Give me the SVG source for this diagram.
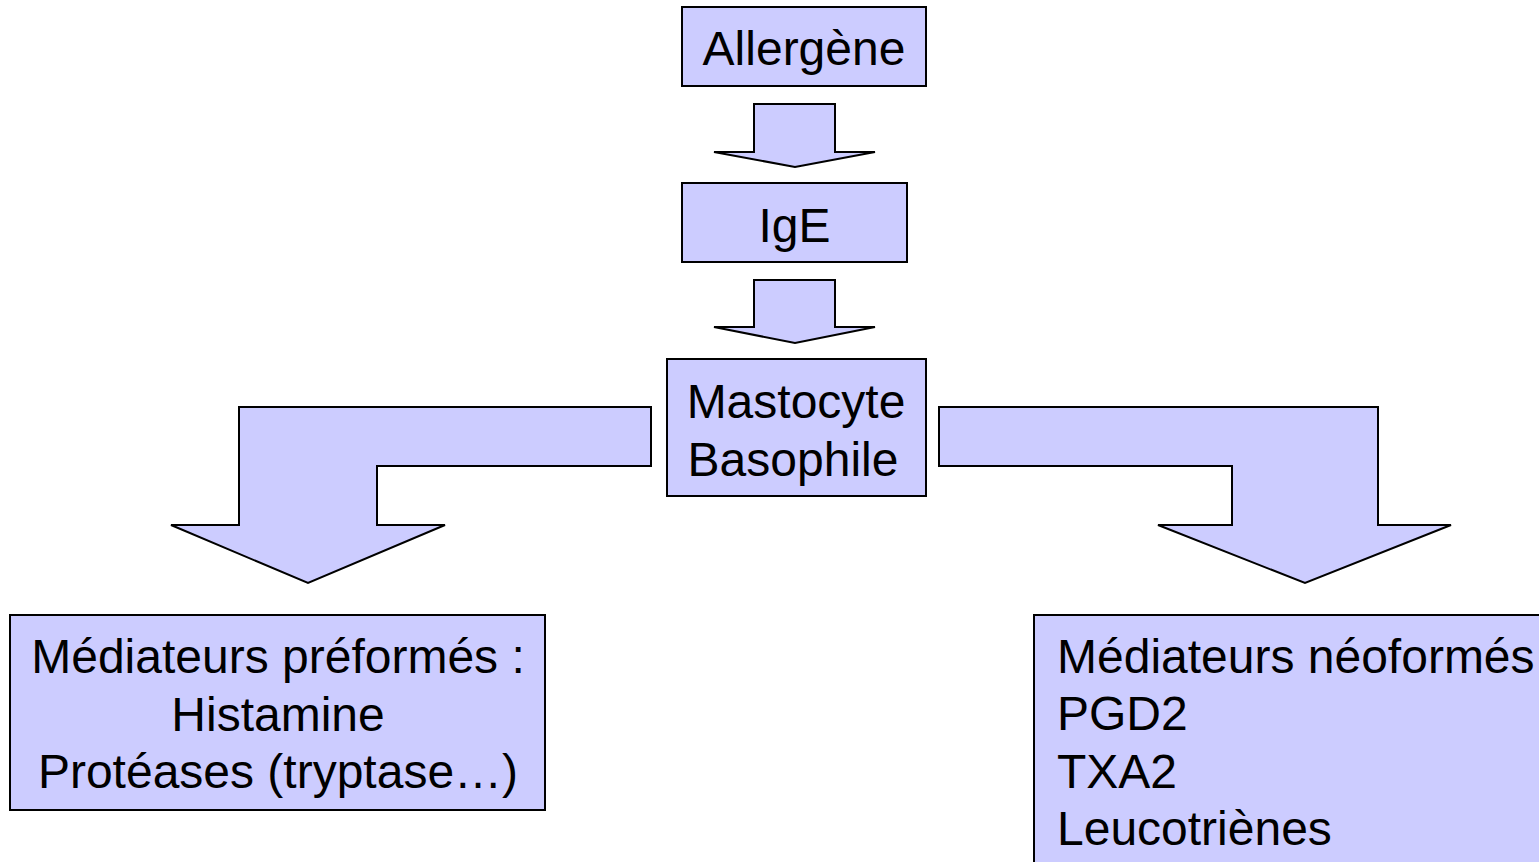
<svg xmlns="http://www.w3.org/2000/svg" width="1539" height="862" viewBox="0 0 1539 862">
<style>
.box{fill:#CCCCFF;stroke:#000;stroke-width:2}
.arr{fill:#CCCCFF;stroke:#000;stroke-width:2;stroke-linejoin:miter}
text{font-family:"Liberation Sans",Arial,sans-serif;font-size:48px;fill:#000}
.c{text-anchor:middle}
</style>
<rect width="1539" height="862" fill="#fff"/>
<g id="connectors">
<polygon class="arr" points="754,104 835,104 835,152 875,152 795,167 714,152 754,152"/>
<polygon class="arr" points="754,280 835,280 835,327 875,327 795,343 714,327 754,327"/>
<polygon class="arr" points="651,407 651,466 377,466 377,525 445,525 308,583 171,525 239,525 239,407"/>
<polygon class="arr" points="939,407 939,466 1232,466 1232,525 1158,525 1305,583 1451,525 1378,525 1378,407"/>
</g>
<g id="allergene">
<rect class="box" x="682" y="7" width="244" height="79"/>
<text class="c" x="804" y="65">Allergène</text>
</g>
<g id="ige">
<rect class="box" x="682" y="183" width="225" height="79"/>
<text class="c" x="794.5" y="242">IgE</text>
</g>
<g id="mastocyte">
<rect class="box" x="667" y="359" width="259" height="137"/>
<text class="c" x="796" y="418">Mastocyte</text>
<text class="c" x="793" y="476">Basophile</text>
</g>
<g id="preformes">
<rect class="box" x="10" y="615" width="535" height="195"/>
<text class="c" x="278" y="673">Médiateurs préformés :</text>
<text class="c" x="278" y="731">Histamine</text>
<text class="c" x="278" y="788">Protéases (tryptase…)</text>
</g>
<g id="neoformes">
<rect class="box" x="1034" y="615" width="520" height="260"/>
<text x="1057" y="673">Médiateurs néoformés</text>
<text x="1057" y="730">PGD2</text>
<text x="1057" y="788">TXA2</text>
<text x="1057" y="845">Leucotriènes</text>
</g>
</svg>
